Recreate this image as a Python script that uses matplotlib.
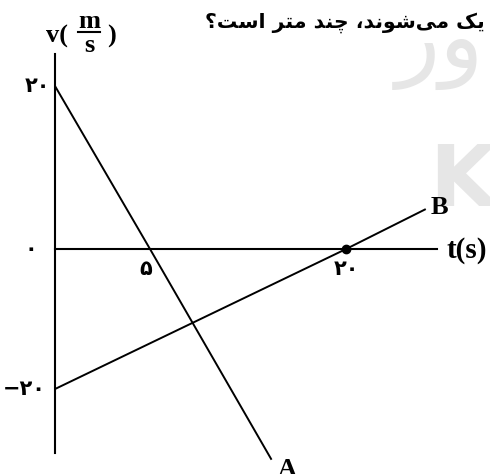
import numpy as np
import matplotlib
matplotlib.use("Agg")
import matplotlib.pyplot as plt
from matplotlib.lines import Line2D

# line A: v = 20 at t = 0, crosses zero at t = 5
A_t = [0, 5, 14.3]
A_v = [20, 0, -30.1]
# line B: v = -20 at t = 0, crosses zero at t = 20
B_t = [0, 20, 26.1]
B_v = [-20, 0, 4.9]
dot_t = [20]
dot_v = [0]

t_ticks = [5, 20]
t_labels = ['\u06f5', '\u06f2\u06f0']
v_ticks = [20, 0, -20]
v_labels = ['\u06f2\u06f0', '\u06f0', '\u2212\u06f2\u06f0']

# question text, logical order in presentation forms (shaped by hand)
question = ['\ufbfe', '\ufb8f', ' ',
            '\ufee3', '\ufbfd', '\ufeb7', '\ufeee', '\ufee7', '\ufeaa', '\u060c', ' ',
            '\ufb7c', '\ufee8', '\ufeaa', ' ',
            '\ufee3', '\ufe98', '\ufeae', ' ',
            '\ufe8d', '\ufeb3', '\ufe96', '\u061f']


def piecewise(xk, yk):
    xk = np.asarray(xk, float)
    yk = np.asarray(yk, float)

    def f(v):
        v = np.asarray(v, float)
        out = np.interp(v, xk, yk)
        s0 = (yk[1] - yk[0]) / (xk[1] - xk[0])
        s1 = (yk[-1] - yk[-2]) / (xk[-1] - xk[-2])
        out = np.where(v < xk[0], yk[0] + (v - xk[0]) * s0, out)
        out = np.where(v > xk[-1], yk[-1] + (v - xk[-1]) * s1, out)
        return out
    return f


# the sketch is not drawn to scale: keep the spacing of the original
tk, tp = [0, 5, 20], [0, 95, 291]
vk, vp = [-20, 0, 20], [-140, 0, 163]

fig = plt.figure(figsize=(4.9, 4.74), dpi=100)
ax = fig.add_axes([55 / 490, 21 / 474, 382 / 490, 399 / 474])
ax.set_xscale('function', functions=(piecewise(tk, tp), piecewise(tp, tk)))
ax.set_yscale('function', functions=(piecewise(vk, vp), piecewise(vp, vk)))
ax.set_xlim(0, 26.96)
ax.set_ylim(-29.14, 23.93)

for s in ['top', 'right']:
    ax.spines[s].set_visible(False)
ax.spines['left'].set_position(('data', 0))
ax.spines['bottom'].set_position(('data', 0))
for s in ['left', 'bottom']:
    ax.spines[s].set_linewidth(1.5)
ax.set_xticks([])
ax.set_yticks([])
ax.set_facecolor('none')

ax.plot(A_t, A_v, color='black', lw=1.4, clip_on=False, solid_capstyle='butt')
ax.plot(B_t, B_v, color='black', lw=1.4, clip_on=False, solid_capstyle='butt')
ax.plot(dot_t, dot_v, 'o', color='black', ms=6, clip_on=False)

pfont = dict(family='DejaVu Sans', fontweight='bold', fontsize=15)
dx_v = [-5, -18, -9]
for v, lab, dx in zip(v_ticks, v_labels, dx_v):
    ax.annotate(lab, (0, v), xytext=(dx, 0), textcoords='offset pixels',
                ha='right', va='center', annotation_clip=False, **pfont)
dx_t = [-4, 0]
for t, lab, dx in zip(t_ticks, t_labels, dx_t):
    ax.annotate(lab, (t, 0), xytext=(dx, -20), textcoords='offset pixels',
                ha='center', va='center', annotation_clip=False, **pfont)

sfont = dict(family='Liberation Serif', fontweight='bold', fontsize=19)
fig.text(287 / 490, 1 - 469 / 474, 'A', ha='center', va='center', **sfont)
fig.text(439 / 490, 1 - 208 / 474, 'B', ha='center', va='center', **sfont)
fig.text(446 / 490, 1 - 251 / 474, 't(s)', ha='left', va='center',
         family='Liberation Serif', fontweight='bold', fontsize=21)

# v(m/s) axis title, built as a stacked fraction
fig.text(57 / 490, 1 - 36 / 474, 'v(', ha='center', va='center', **sfont)
fig.text(89 / 490, 1 - 22 / 474, 'm', ha='center', va='center', **sfont)
fig.text(89 / 490, 1 - 46 / 474, 's', ha='center', va='center', **sfont)
fig.text(111 / 490, 1 - 36 / 474, ')', ha='center', va='center', **sfont)
fig.add_artist(Line2D([78 / 490, 100 / 490], [1 - 32 / 474, 1 - 32 / 474],
                      color='black', lw=1.5))

# faint watermark of the source page
fig.text(440 / 490, 1 - 45 / 474, '\ufead\ufeed', ha='center', va='center',
         family='DejaVu Sans', fontsize=66, color='#e6e6e6', zorder=0)
fig.text(462 / 490, 1 - 183 / 474, 'K', ha='center', va='center',
         family='DejaVu Sans', fontweight='bold', fontsize=62, color='#e6e6e6', zorder=0)

fig.text(485 / 490, 1 - 23 / 474, ''.join(reversed(question)), ha='right', va='center',
         family='DejaVu Sans', fontweight='bold', fontsize=14.7)

fig.savefig('out.png', dpi=100)
